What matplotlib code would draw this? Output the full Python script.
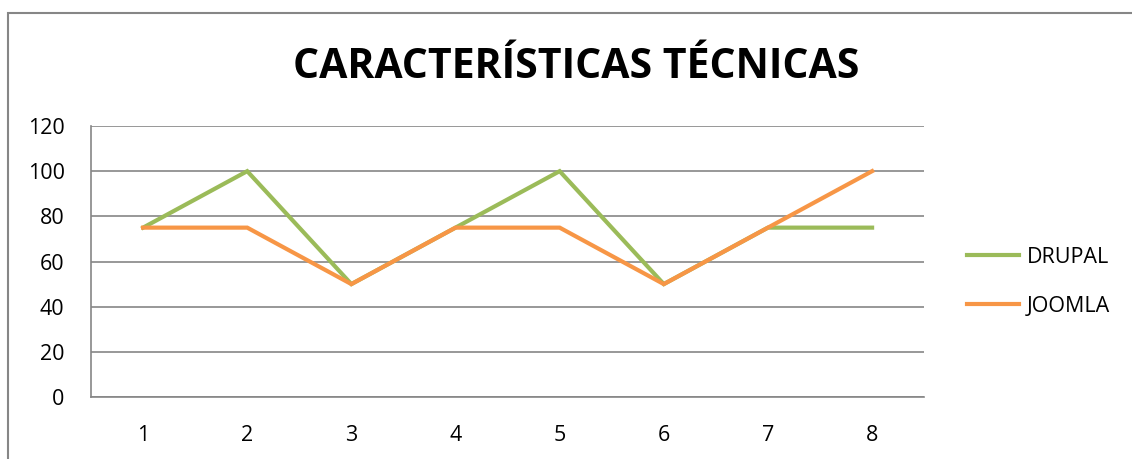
import matplotlib.pyplot as plt
from matplotlib.patches import Rectangle

# --- Data ---
categories = [1, 2, 3, 4, 5, 6, 7, 8]
drupal = [75, 100, 50, 75, 100, 50, 75, 75]
joomla = [75, 75, 50, 75, 75, 50, 75, 100]
yticks = [0, 20, 40, 60, 80, 100, 120]

plt.rcParams['font.family'] = ['Open Sans', 'DejaVu Sans']

fig = plt.figure(figsize=(11.32, 4.59), dpi=100)
ax = fig.add_axes([0.0804, 0.135, 0.736, 0.5905])

# outer chart border (only left/top visible in the crop)
fig.patches.append(Rectangle((8 / 1132, -0.1), 1.2, 1 - 13 / 459 + 0.1,
                             transform=fig.transFigure, fill=False,
                             edgecolor='#868686', linewidth=1.5))

ax.plot(categories, drupal, color='#9BBB59', linewidth=3, label='DRUPAL',
        solid_joinstyle='miter')
ax.plot(categories, joomla, color='#F79646', linewidth=3, label='JOOMLA',
        solid_joinstyle='miter')

ax.set_xlim(0.5, 8.5)
ax.set_ylim(0, 120)
ax.set_yticks(yticks)
ax.set_xticks(categories)
ax.yaxis.grid(True, color='#868686', linewidth=1.2)
ax.set_axisbelow(True)
for s in ['top', 'right']:
    ax.spines[s].set_visible(False)
for s in ['left', 'bottom']:
    ax.spines[s].set_color('#868686')
    ax.spines[s].set_linewidth(1.2)
ax.tick_params(length=0, labelsize=15.5)
ax.tick_params(axis='x', pad=20)
ax.tick_params(axis='y', pad=19)

fig.text(0.509, 0.853, 'CARACTERÍSTICAS TÉCNICAS', ha='center', va='center',
         fontsize=29.5, fontweight='bold')

fig.legend(loc='center left', bbox_to_anchor=(0.8375, 0.386), frameon=False,
           fontsize=15.5, handlelength=2.4, handletextpad=0.35, labelspacing=1.3)

fig.savefig('out.png', dpi=100)
